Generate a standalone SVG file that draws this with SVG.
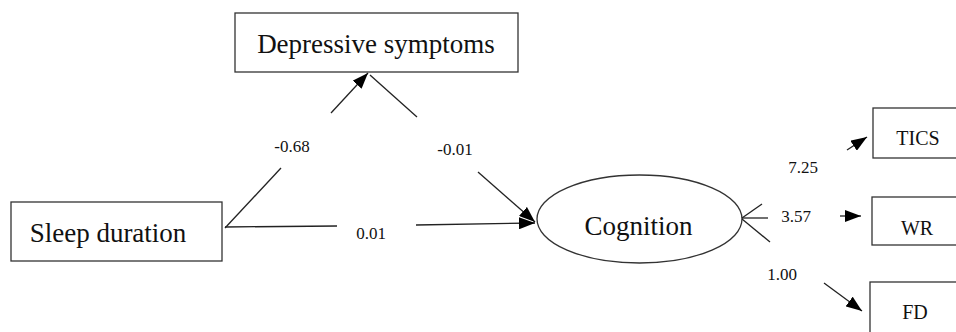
<svg xmlns="http://www.w3.org/2000/svg" width="956" height="332" viewBox="0 0 956 332">
<style>
.box{fill:#fff;stroke:#333;stroke-width:1.3}
.ln{stroke:#222;stroke-width:1.3;fill:none}
text{font-family:'Liberation Serif','DejaVu Serif','Times New Roman',serif;fill:#111}
.big{font-size:27px}
.sm{font-size:20px}
.lb{font-size:17px}
</style>
<defs>
<marker id="ah" viewBox="0 0 16 12" refX="16" refY="6" markerWidth="16" markerHeight="12" markerUnits="userSpaceOnUse" orient="auto">
<path d="M0,0 L16,6 L0,12 Z" fill="#000"/>
</marker>
</defs>
<rect width="956" height="332" fill="#fff"/>
<g id="depressive">
<rect class="box" x="235" y="13" width="283" height="59"/>
<text class="big" x="376" y="53" text-anchor="middle" font-family="Liberation Serif, serif">Depressive symptoms</text>
</g>
<g id="sleep">
<rect class="box" x="11" y="202" width="211" height="59"/>
<text class="big" x="108" y="242" text-anchor="middle" font-family="Liberation Serif, serif">Sleep duration</text>
</g>
<g id="cognition">
<ellipse class="box" cx="639.5" cy="219" rx="102.5" ry="44"/>
<text class="big" x="638.5" y="235" text-anchor="middle" font-family="Liberation Serif, serif">Cognition</text>
</g>
<g id="tics">
<rect class="box" x="873" y="108" width="100" height="50"/>
<text class="sm" x="918" y="145" text-anchor="middle" font-family="Liberation Serif, serif">TICS</text>
</g>
<g id="wr">
<rect class="box" x="872" y="197" width="100" height="48"/>
<text class="sm" x="917" y="235" text-anchor="middle" font-family="Liberation Serif, serif">WR</text>
</g>
<g id="fd">
<rect class="box" x="870" y="282" width="100" height="60"/>
<text class="sm" x="915" y="319" text-anchor="middle" font-family="Liberation Serif, serif">FD</text>
</g>
<g id="connectors">
<line class="ln" x1="281" y1="168" x2="225" y2="228"/>
<line class="ln" x1="331" y1="113" x2="368" y2="73" marker-end="url(#ah)"/>
<line class="ln" x1="370" y1="75" x2="417" y2="117"/>
<line class="ln" x1="478" y1="172" x2="535" y2="222" marker-end="url(#ah)"/>
<line class="ln" x1="225" y1="227" x2="337" y2="226"/>
<line class="ln" x1="416" y1="225" x2="535" y2="223" marker-end="url(#ah)"/>
<line class="ln" x1="742" y1="218" x2="762" y2="204"/>
<line class="ln" x1="742" y1="218" x2="768" y2="218"/>
<line class="ln" x1="742" y1="219" x2="770" y2="242"/>
<line class="ln" x1="847" y1="150" x2="867" y2="137" marker-end="url(#ah)"/>
<line class="ln" x1="840" y1="216" x2="861" y2="216" marker-end="url(#ah)"/>
<line class="ln" x1="824" y1="283" x2="862" y2="311" marker-end="url(#ah)"/>
<text class="lb" x="292" y="152" text-anchor="middle" font-family="Liberation Serif, serif">-0.68</text>
<text class="lb" x="455" y="155" text-anchor="middle" font-family="Liberation Serif, serif">-0.01</text>
<text class="lb" x="371" y="239" text-anchor="middle" font-family="Liberation Serif, serif">0.01</text>
<text class="lb" x="803" y="173" text-anchor="middle" font-family="Liberation Serif, serif">7.25</text>
<text class="lb" x="796" y="222" text-anchor="middle" font-family="Liberation Serif, serif">3.57</text>
<text class="lb" x="782" y="280" text-anchor="middle" font-family="Liberation Serif, serif">1.00</text>
</g>
</svg>
